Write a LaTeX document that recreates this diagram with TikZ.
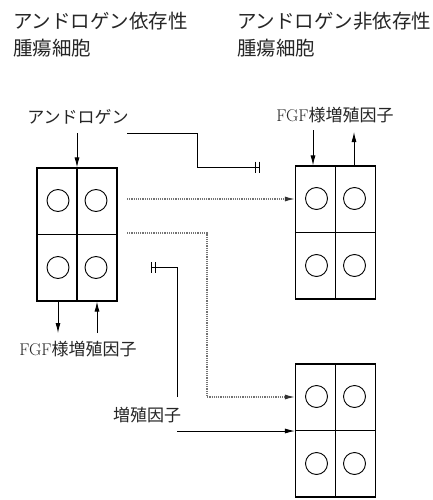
\documentclass[tikz,border=0pt]{standalone}
\usepackage{fontspec}
\newfontfamily\cjk{Noto Sans CJK JP}
\usetikzlibrary{arrows.meta, positioning}

\begin{document}
\begin{tikzpicture}[
  x=1pt, y=-1pt,
  every node/.style={font=\cjk\fontsize{17}{19}\selectfont, text=black!85, inner sep=1pt},
  title/.style={anchor=west, font=\cjk\fontsize{19.5}{21}\selectfont},
  cellbox/.style={rectangle, draw, line width=1.1pt, minimum width=80pt, minimum height=133pt, inner sep=0pt},
  nucleus/.style={circle, draw, line width=0.9pt, minimum size=22pt, inner sep=0pt},
  arr/.style={-{Latex[length=10pt, width=5pt]}, line width=0.9pt},
  dotarr/.style={-{Latex[length=10pt, width=5pt, color=black!80]}, densely dotted, line width=1.2pt, black!55},
  inhib/.style={-{Bar[width=11pt, line width=1.2pt, sep=2.5pt]Bar[width=11pt, line width=1.2pt]}, line width=0.9pt}
]
\useasboundingbox (0,0) rectangle (433,500);

% titles
\node[title] (deptitle) at (12,21) {アンドロゲン依存性};
\node[title] (depcell) at (12,48) {腫瘍細胞};
\node[title] (indeptitle) at (236,21) {アンドロゲン非依存性};
\node[title] (indepcell) at (236,48) {腫瘍細胞};

% cells
\node[cellbox] (dep) at (77,234.5) {};
\node[cellbox] (indep) at (335.5,232.5) {};
\node[cellbox] (indepb) at (335.5,430.5) {};
\foreach \b in {dep, indep, indepb} {
  \draw[line width=1.1pt] (\b.north) -- (\b.south);
  \draw[line width=1.1pt] (\b.west) -- (\b.east);
  \node[nucleus] (\b-a) at ([xshift=-19pt, yshift=34pt]\b.center) {};
  \node[nucleus] (\b-b) at ([xshift=19pt, yshift=34pt]\b.center) {};
  \node[nucleus] (\b-c) at ([xshift=-19pt, yshift=-33pt]\b.center) {};
  \node[nucleus] (\b-d) at ([xshift=19pt, yshift=-33pt]\b.center) {};
}

% labels
\node (andro) at (78,117) {アンドロゲン};
\node (fgfdep) at (78,349) {{\rmfamily FGF}様増殖因子};
\node (fgfindep) at (335,115) {{\rmfamily FGF}様増殖因子};
\node (growth) at (147,415) {増殖因子};

% connectors
\coordinate (androtip) at (77,133);
\draw[arr] (androtip) -- (dep.north);

\coordinate (fgfout) at (58,333);
\coordinate (fgfin) at (97,333);
\draw[arr] (dep.south -| fgfout) -- (fgfout);
\draw[arr] (fgfin) -- (dep.south -| fgfin);

\coordinate (fgfinr) at (313,130);
\coordinate (fgfoutr) at (354,132);
\draw[arr] (fgfinr) -- (indep.north -| fgfinr);
\draw[arr] (indep.north -| fgfoutr) -- (fgfoutr);

\coordinate (blockA) at (127,133);
\coordinate (blockAend) at (260,167);
\draw[inhib] (blockA) -- (197,133) -- (197,167) -- (blockAend);

\coordinate (shiftA) at (127,199);
\draw[dotarr] (shiftA) -- (shiftA -| indep.west);

\coordinate (shiftB) at (127,233);
\draw[dotarr] (shiftB) -- (207,233) -- (207,397) -- (indepb.west |- 0,397);

\coordinate (blockB) at (177,397);
\coordinate (blockBend) at (151,267);
\draw[inhib] (blockB) -- (177,267) -- (blockBend);

\coordinate (growthtail) at (177,431);
\draw[arr] (growthtail) -- (growthtail -| indepb.west);
\end{tikzpicture}
\end{document}
